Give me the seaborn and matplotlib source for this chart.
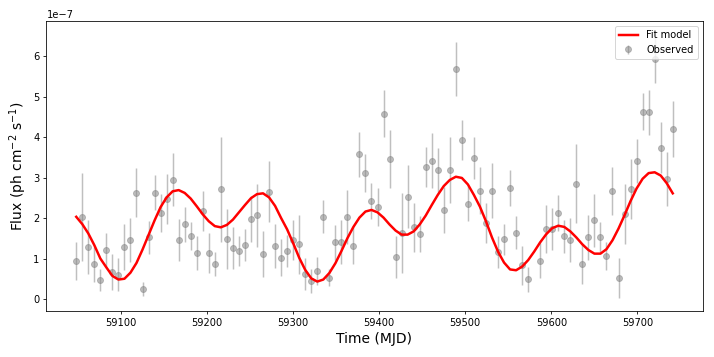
import numpy as np
import pandas as pd
import seaborn as sns
import matplotlib
matplotlib.use("Agg")
import matplotlib.pyplot as plt

# observed weekly fluxes (units of 1e-7 ph cm^-2 s^-1)
obs_mjd = [59048, 59055, 59062, 59069, 59076, 59083, 59090, 59097, 59104, 59111,
           59118, 59125, 59132, 59139, 59146, 59153, 59160, 59167, 59174, 59181,
           59188, 59195, 59202, 59209, 59216, 59223, 59230, 59237, 59244, 59251,
           59258, 59265, 59272, 59279, 59286, 59293, 59300, 59307, 59314, 59321,
           59328, 59335, 59342, 59349, 59356, 59363, 59370, 59377, 59384, 59391,
           59398, 59405, 59412, 59419, 59426, 59433, 59440, 59447, 59454, 59461,
           59468, 59475, 59482, 59489, 59496, 59503, 59510, 59517, 59524, 59531,
           59538, 59545, 59552, 59559, 59566, 59573, 59587, 59594, 59601,
           59608, 59615, 59622, 59629, 59636, 59643, 59650, 59657, 59664, 59671,
           59678, 59685, 59692, 59699, 59706, 59713, 59720, 59727, 59734, 59741]
obs_flux = [0.94, 2.03, 1.28, 0.86, 0.46, 1.21, 0.66, 0.60, 1.28, 1.45,
            2.63, 0.25, 1.52, 2.63, 2.12, 2.47, 2.95, 1.45, 1.84, 1.56,
            1.14, 2.17, 1.14, 0.87, 2.71, 1.48, 1.26, 1.19, 1.34, 1.98,
            2.07, 1.11, 2.65, 1.31, 1.02, 1.19, 1.46, 1.35, 0.61, 0.44,
            0.69, 2.03, 0.53, 1.40, 1.40, 2.02, 1.32, 3.57, 3.12, 2.42,
            2.28, 4.58, 3.46, 1.04, 1.62, 2.53, 1.77, 1.60, 3.26, 3.42,
            3.19, 2.20, 3.19, 5.68, 3.93, 2.35, 3.48, 2.67, 1.87, 2.67,
            1.16, 1.47, 2.74, 1.64, 0.83, 0.49, 0.95, 1.73, 1.73,
            2.12, 1.55, 1.46, 2.85, 0.87, 1.52, 1.94, 1.54, 1.07, 2.67,
            0.52, 2.10, 2.71, 3.41, 4.63, 4.61, 5.94, 3.74, 2.96, 4.20]
obs_err = [0.48, 1.08, 0.67, 0.43, 0.27, 0.42, 0.44, 0.41, 0.56, 0.54,
           0.61, 0.17, 0.41, 0.43, 0.47, 0.61, 0.66, 0.52, 0.42, 0.35,
           0.42, 0.49, 0.50, 0.29, 1.30, 0.74, 0.53, 0.37, 0.40, 0.57,
           0.78, 0.56, 0.75, 0.55, 0.46, 0.39, 0.50, 0.73, 0.40, 0.29,
           0.35, 0.41, 0.22, 0.43, 0.54, 0.67, 0.45, 0.55, 0.47, 0.45,
           0.47, 0.58, 0.72, 0.52, 0.99, 0.77, 0.60, 0.45, 0.49, 0.68,
           0.55, 0.57, 0.81, 0.66, 0.49, 0.43, 0.51, 0.58, 0.49, 0.68,
           0.40, 0.38, 0.44, 0.41, 0.49, 0.31, 0.43, 0.60, 0.52,
           0.45, 0.41, 0.54, 0.98, 0.49, 0.56, 0.65, 0.37, 0.35, 0.60,
           0.49, 0.73, 0.74, 0.54, 0.46, 0.56, 0.60, 0.64, 0.66, 0.69]

# fit model sampled weekly
model_mjd = [59048, 59055, 59062, 59069, 59076, 59083, 59090, 59097, 59104, 59111,
             59118, 59125, 59132, 59139, 59146, 59153, 59160, 59167, 59174, 59181,
             59188, 59195, 59202, 59209, 59216, 59223, 59230, 59237, 59244, 59251,
             59258, 59265, 59272, 59279, 59286, 59293, 59300, 59307, 59314, 59321,
             59328, 59335, 59342, 59349, 59356, 59363, 59370, 59377, 59384, 59391,
             59398, 59405, 59412, 59419, 59426, 59433, 59440, 59447, 59454, 59461,
             59468, 59475, 59482, 59489, 59496, 59503, 59510, 59517, 59524, 59531,
             59538, 59545, 59552, 59559, 59566, 59573, 59580, 59587, 59594, 59601,
             59608, 59615, 59622, 59629, 59636, 59643, 59650, 59657, 59664, 59671,
             59678, 59685, 59692, 59699, 59706, 59713, 59720, 59727, 59734, 59741]
model_flux = [2.03, 1.85, 1.62, 1.33, 1.00, 0.78, 0.57, 0.48, 0.50, 0.65,
              0.89, 1.22, 1.58, 1.94, 2.27, 2.51, 2.66, 2.69, 2.62, 2.48,
              2.29, 2.09, 1.92, 1.80, 1.77, 1.83, 1.96, 2.14, 2.32, 2.49,
              2.59, 2.61, 2.51, 2.30, 2.00, 1.72, 1.38, 1.02, 0.72, 0.51,
              0.43, 0.48, 0.64, 0.88, 1.18, 1.50, 1.78, 2.01, 2.16, 2.20,
              2.14, 2.01, 1.84, 1.69, 1.59, 1.59, 1.67, 1.84, 2.06, 2.32,
              2.57, 2.79, 2.94, 3.02, 2.99, 2.83, 2.57, 2.28, 1.92, 1.52,
              1.17, 0.90, 0.73, 0.71, 0.80, 0.96, 1.17, 1.40, 1.60, 1.75,
              1.81, 1.78, 1.67, 1.52, 1.35, 1.21, 1.12, 1.12, 1.23, 1.45,
              1.74, 2.07, 2.42, 2.73, 2.97, 3.11, 3.13, 3.05, 2.86, 2.61]

scale = 1e-7
obs = pd.DataFrame({"mjd": obs_mjd,
                    "flux": np.array(obs_flux) * scale,
                    "err": np.array(obs_err) * scale})
model = pd.DataFrame({"mjd": model_mjd, "flux": np.array(model_flux) * scale})

fig, ax = plt.subplots(figsize=(10, 5), dpi=71.4)
fig.subplots_adjust(left=0.065, right=0.984, top=0.941, bottom=0.129)

# observed points with error bars
ax.errorbar(obs["mjd"], obs["flux"], yerr=obs["err"], fmt="o", color="gray",
            alpha=0.5, markersize=6, elinewidth=1.5, label="Observed", zorder=1)

# fit model
sns.lineplot(data=model, x="mjd", y="flux", color="red", linewidth=2.5,
             label="Fit model", ax=ax, zorder=2)

ax.set_xlabel("Time (MJD)", fontsize=14)
ax.set_ylabel("Flux (ph cm$^{-2}$ s$^{-1}$)", fontsize=14)
ax.tick_params(labelsize=10)
ax.legend(loc="upper right", fontsize=10)

fig.savefig("out.png", dpi=71.4)
